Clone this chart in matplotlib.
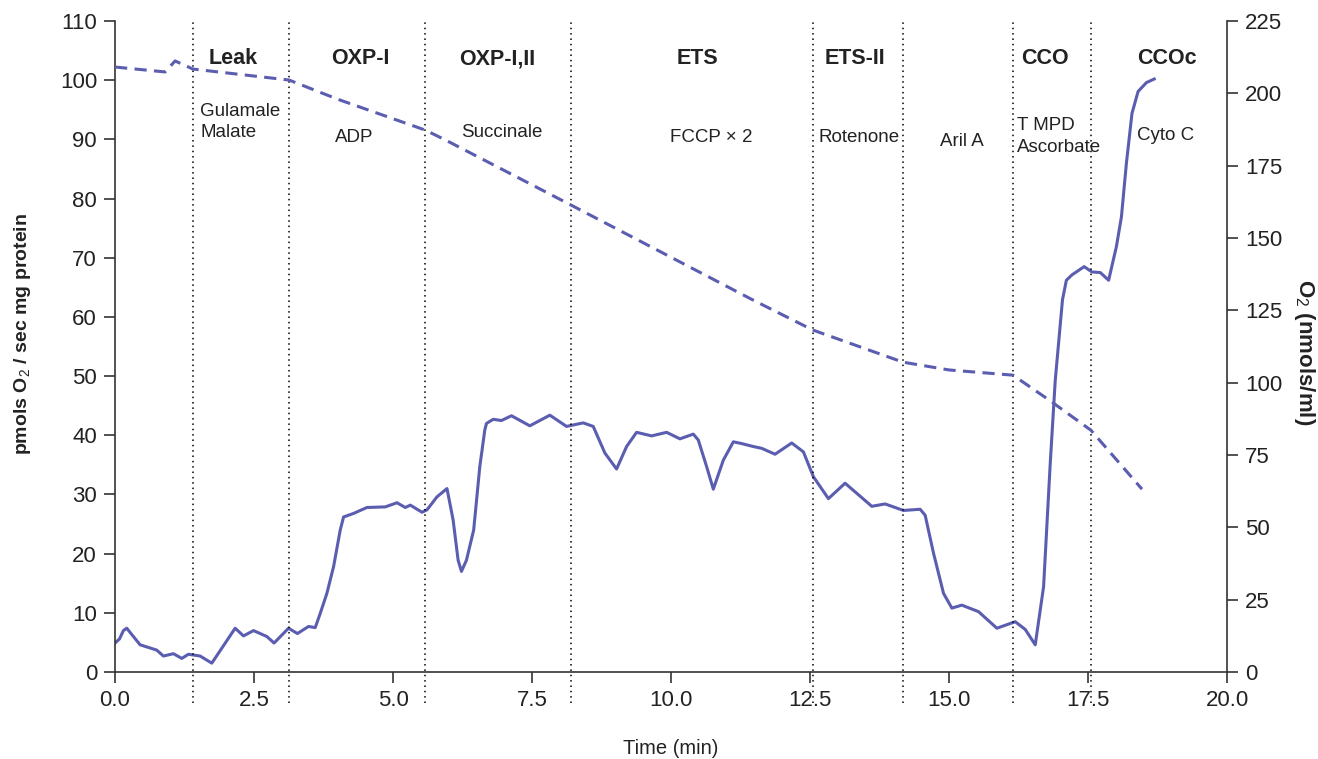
import matplotlib
matplotlib.use("Agg")
import matplotlib.pyplot as plt
import numpy as np

plt.rcParams['font.family'] = ['Liberation Sans', 'DejaVu Sans']
plt.rcParams['mathtext.fontset'] = 'custom'
plt.rcParams['mathtext.rm'] = 'Liberation Sans'
plt.rcParams['mathtext.bf'] = 'Liberation Sans:bold'

# Oxygen flux (left axis)
flux_t = [0.00, 0.08, 0.15, 0.21, 0.45, 0.75, 0.87, 1.05, 1.20, 1.32, 1.53, 1.74,
          2.16, 2.31, 2.49, 2.73, 2.86, 3.12, 3.28, 3.48, 3.60, 3.69, 3.81, 3.93,
          4.05, 4.11, 4.29, 4.53, 4.86, 5.07, 5.22, 5.31, 5.52, 5.61, 5.79, 5.97,
          6.08, 6.17, 6.23, 6.32, 6.45, 6.56, 6.65, 6.68, 6.80, 6.95, 7.13, 7.46,
          7.82, 8.12, 8.42, 8.60, 8.81, 9.02, 9.20, 9.38, 9.65, 9.92, 10.16, 10.40,
          10.49, 10.64, 10.76, 10.94, 11.12, 11.27, 11.48, 11.63, 11.87, 12.17,
          12.38, 12.56, 12.83, 13.13, 13.34, 13.61, 13.85, 14.18, 14.48, 14.57,
          14.72, 14.90, 15.05, 15.23, 15.53, 15.86, 16.19, 16.37, 16.55, 16.70,
          16.82, 16.91, 17.04, 17.11, 17.21, 17.43, 17.57, 17.72, 17.87, 18.01,
          18.10, 18.19, 18.29, 18.40, 18.55, 18.69]
flux_v = [4.9, 5.6, 7.0, 7.4, 4.6, 3.7, 2.7, 3.1, 2.3, 3.0, 2.7, 1.5,
          7.4, 6.1, 7.0, 6.0, 4.9, 7.4, 6.5, 7.7, 7.5, 9.9, 13.3, 17.8,
          24.0, 26.2, 26.8, 27.8, 27.9, 28.6, 27.8, 28.2, 27.0, 27.4, 29.6, 31.0,
          25.7, 18.9, 17.0, 18.9, 24.0, 34.7, 40.9, 42.0, 42.7, 42.5, 43.3, 41.6,
          43.4, 41.5, 42.1, 41.5, 37.0, 34.3, 38.1, 40.5, 39.9, 40.5, 39.4, 40.2,
          39.2, 34.7, 30.9, 35.8, 38.9, 38.6, 38.1, 37.8, 36.8, 38.7,
          37.2, 33.0, 29.3, 31.9, 30.2, 28.0, 28.4, 27.3, 27.5, 26.5,
          20.1, 13.3, 10.8, 11.3, 10.2, 7.4, 8.5, 7.2, 4.6, 14.4,
          35.3, 49.3, 62.9, 66.2, 67.1, 68.5, 67.6, 67.5, 66.2, 71.9,
          76.9, 86.0, 94.4, 98.1, 99.6, 100.2]

# O2 concentration (right axis)
o2_t = [0.00, 0.90, 1.08, 1.40, 3.13, 4.00, 5.58, 5.94, 8.20, 11.47, 12.55,
        14.17, 15.00, 16.15, 16.80, 17.55, 18.47]
o2_v = [209.1, 207.4, 211.2, 208.4, 204.6, 198.0, 187.3, 183.9, 161.4, 128.6, 118.2,
        107.1, 104.4, 102.6, 94.0, 83.6, 63.2]

# Titration marks
marks = [1.40, 3.13, 5.58, 8.20, 12.55, 14.17, 16.15, 17.55]

phases = ['Leak', 'OXP-I', 'OXP-I,II', 'ETS', 'ETS-II', 'CCO', 'CCOc']
phase_x = [2.12, 4.41, 6.87, 10.47, 13.31, 16.73, 18.92]

# substrate labels: text, x, y, alignment
subs = [('Gulamale\nMalate', 1.53, 92.9, 'left'),
        ('ADP', 4.30, 90.4, 'center'),
        ('Succinale', 6.22, 91.1, 'left'),
        ('FCCP \u00d7 2', 10.73, 90.4, 'center'),
        ('Rotenone', 12.65, 90.4, 'left'),
        ('Aril A', 15.23, 89.6, 'center'),
        ('T MPD\nAscorbate', 16.22, 90.5, 'left'),
        ('Cyto C', 18.90, 90.6, 'center')]

color = '#5a5db0'
axc = '#333333'
txtc = '#222222'

fig = plt.figure(figsize=(13.18, 7.59), dpi=100)
ax = fig.add_axes([0.0873, 0.1146, 0.8437, 0.8577])
ax2 = ax.twinx()

ax.plot(flux_t, flux_v, color=color, lw=2.2, solid_joinstyle='round')
ax2.plot(o2_t, o2_v, color=color, lw=2.2, dashes=(4, 2.4))

ax.vlines(marks, -5.2, 110, colors='black', linestyles=(0, (1, 2.5)), lw=1.1, clip_on=False)

for name, x in zip(phases, phase_x):
    ax.text(x, 103.6, name, ha='center', va='center', fontsize=15.5, fontweight='bold', color=txtc)
for txt, x, y, ha in subs:
    ax.text(x, y, txt, ha=ha, va='center', fontsize=13.5, color=txtc, linespacing=1.35)

ax.set_xlim(0, 20)
ax.set_ylim(0, 110)
ax2.set_ylim(0, 225)
ax.set_xticks(np.arange(0, 20.1, 2.5))
ax.set_xticklabels([f'{v:.1f}' for v in np.arange(0, 20.1, 2.5)])
ax.set_yticks(np.arange(0, 111, 10))
ax2.set_yticks(np.arange(0, 226, 25))

for a in (ax, ax2):
    a.spines['top'].set_visible(False)
    for s in a.spines.values():
        s.set_color(axc)
        s.set_linewidth(1.2)
    a.tick_params(direction='out', length=8, width=1.2, color=axc, labelsize=16,
                  labelcolor=txtc, pad=5)
ax.spines['right'].set_visible(False)
ax2.spines['left'].set_visible(False)
ax2.spines['bottom'].set_visible(False)

ax.set_xlabel('Time (min)', fontsize=14.5, color=txtc)
ax.xaxis.set_label_coords(0.5, -0.103)
ax.set_ylabel('pmols O$_2$ / sec mg protein', fontsize=14, fontweight='bold', color=txtc)
ax.yaxis.set_label_coords(-0.074, 0.519)
ax2.set_ylabel('O$_2$ (nmols/ml)', fontsize=16, fontweight='bold', color=txtc, rotation=270)
ax2.yaxis.set_label_coords(1.081, 0.492)

fig.savefig('out.png', dpi=100)
